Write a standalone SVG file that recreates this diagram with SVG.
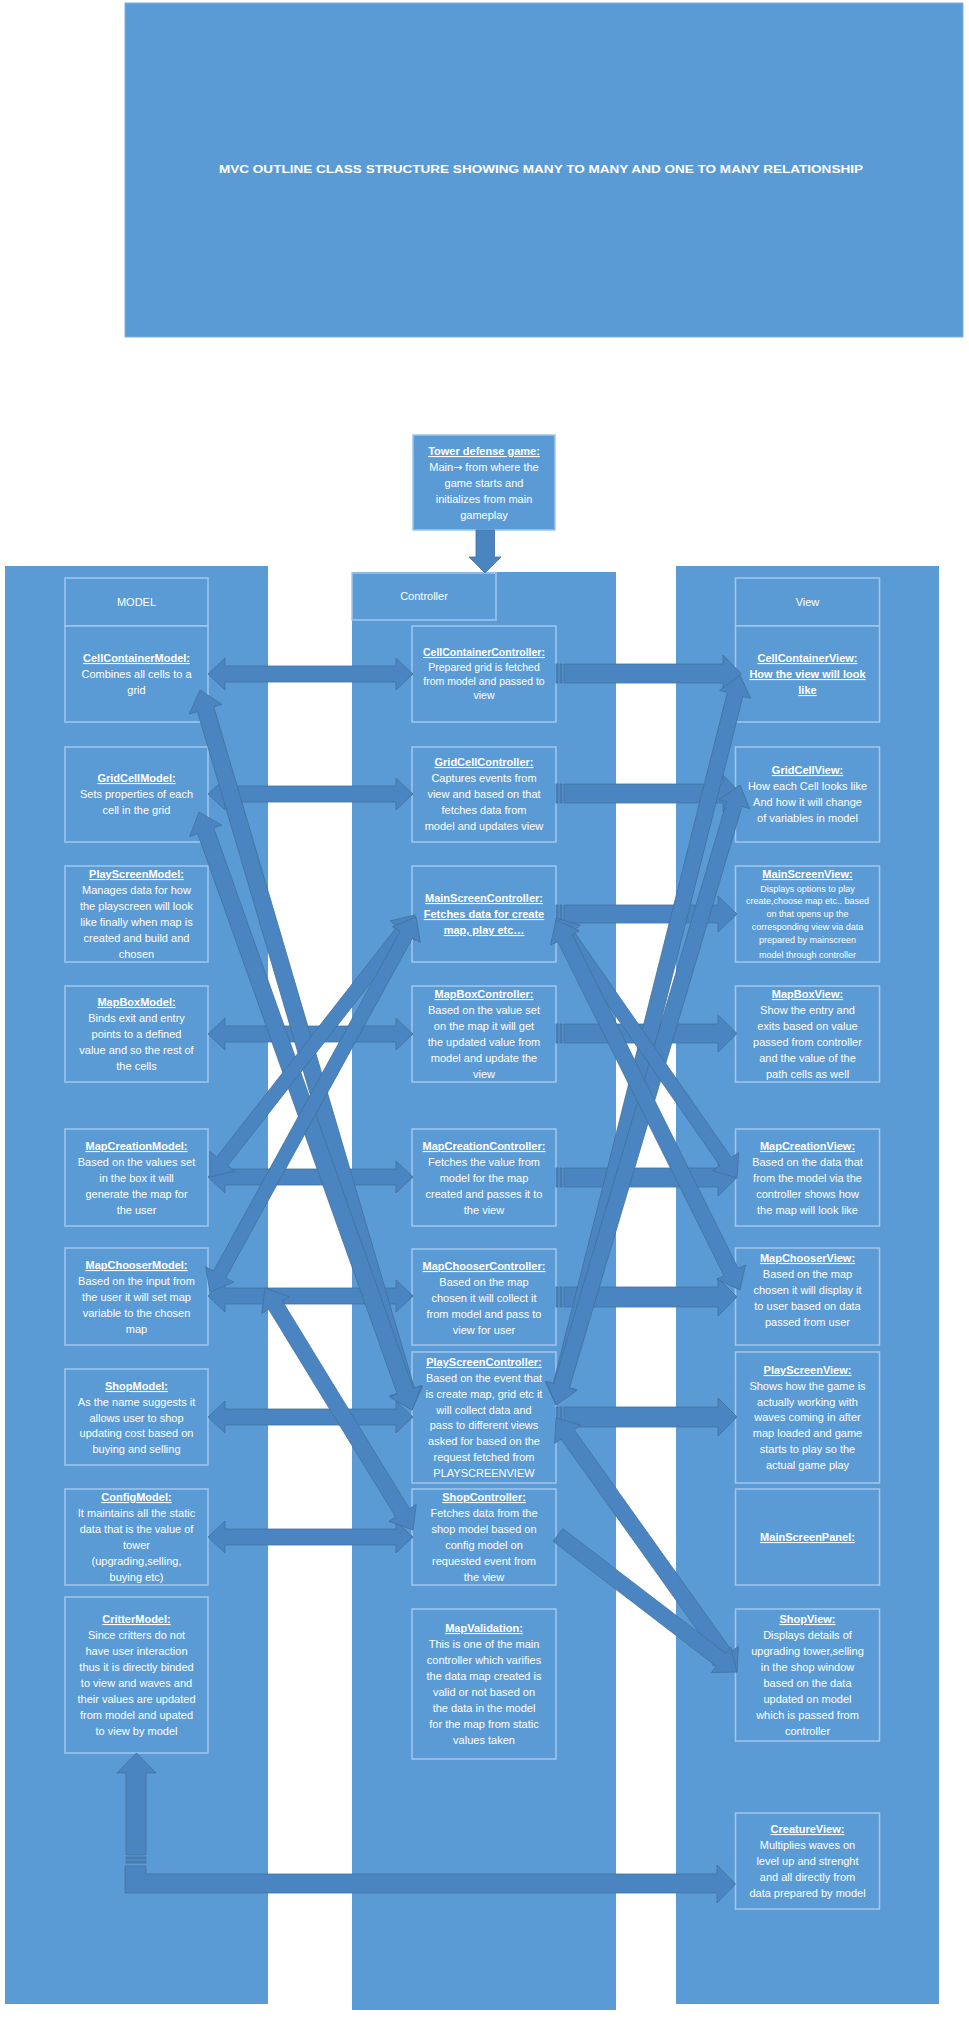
<svg xmlns="http://www.w3.org/2000/svg" width="969" height="2019" viewBox="0 0 969 2019">
<style>
.col{fill:#5b9bd5;}
.box{fill:#5b9bd5;stroke:#a3c6ea;stroke-width:1.5;}
.t{font-family:"Liberation Sans",Arial,sans-serif;font-size:11px;fill:#ffffff;text-anchor:middle;}
.s{font-size:10.5px;}
.xs{font-size:9px;}
.h{font-weight:bold;text-decoration:underline;}
.arr{fill:#4a85c2;stroke:#41719c;stroke-width:0.8;}
</style>
<rect width="969" height="2019" fill="#ffffff"/>
<g id="title">
<rect x="125" y="3" width="838" height="334" class="col" stroke="#7fb0e0" stroke-width="1"/>
<text x="541" y="173" class="t" font-weight="bold" font-size="13" textLength="644" lengthAdjust="spacingAndGlyphs">MVC OUTLINE CLASS STRUCTURE SHOWING MANY TO MANY AND ONE TO MANY RELATIONSHIP</text>
</g>
<g id="columns">
<rect x="5" y="566" width="263" height="1438" class="col"/>
<rect x="352" y="572" width="264" height="1438" class="col"/>
<rect x="676" y="566" width="263" height="1438" class="col"/>
</g>
<g id="tower">
<rect x="413" y="435" width="142" height="95" class="box"/>
<text class="t"><tspan x="484" y="455" class="h">Tower defense game:</tspan><tspan x="484" y="471">Main<tspan font-family="DejaVu Sans, sans-serif">→</tspan> from where the</tspan><tspan x="484" y="487">game starts and</tspan><tspan x="484" y="503">initializes from main</tspan><tspan x="484" y="519">gameplay</tspan></text>
</g>
<g id="model-header"><rect x="65" y="578" width="143" height="48" class="box"/><text x="136.5" y="606" class="t">MODEL</text></g>
<g id="controller-header"><rect x="352" y="573" width="144" height="47" class="box"/><text x="424" y="600" class="t">Controller</text></g>
<g id="view-header"><rect x="735.5" y="578" width="144" height="48" class="box"/><text x="807.5" y="606" class="t">View</text></g>

<g id="CellContainerModel"><rect x="65" y="626" width="143" height="96" class="box"/><text class="t"><tspan x="136.5" y="662" class="h">CellContainerModel:</tspan><tspan x="136.5" y="678">Combines all cells to a</tspan><tspan x="136.5" y="694">grid</tspan></text></g>
<g id="GridCellModel"><rect x="65" y="747" width="143" height="95" class="box"/><text class="t"><tspan x="136.5" y="782" class="h">GridCellModel:</tspan><tspan x="136.5" y="798">Sets properties of each</tspan><tspan x="136.5" y="814">cell in the grid</tspan></text></g>
<g id="PlayScreenModel"><rect x="65" y="866" width="143" height="96" class="box"/><text class="t"><tspan x="136.5" y="878" class="h">PlayScreenModel:</tspan><tspan x="136.5" y="894">Manages data for how</tspan><tspan x="136.5" y="910">the playscreen will look</tspan><tspan x="136.5" y="926">like finally when map is</tspan><tspan x="136.5" y="942">created and build and</tspan><tspan x="136.5" y="958">chosen</tspan></text></g>
<g id="MapBoxModel"><rect x="65" y="986" width="143" height="96" class="box"/><text class="t"><tspan x="136.5" y="1006" class="h">MapBoxModel:</tspan><tspan x="136.5" y="1022">Binds exit and entry</tspan><tspan x="136.5" y="1038">points to a defined</tspan><tspan x="136.5" y="1054">value and so the rest of</tspan><tspan x="136.5" y="1070">the cells</tspan></text></g>
<g id="MapCreationModel"><rect x="65" y="1129" width="143" height="97" class="box"/><text class="t"><tspan x="136.5" y="1150" class="h">MapCreationModel:</tspan><tspan x="136.5" y="1166">Based on the values set</tspan><tspan x="136.5" y="1182">in the box it will</tspan><tspan x="136.5" y="1198">generate the map for</tspan><tspan x="136.5" y="1214">the user</tspan></text></g>
<g id="MapChooserModel"><rect x="65" y="1248" width="143" height="97" class="box"/><text class="t"><tspan x="136.5" y="1269" class="h">MapChooserModel:</tspan><tspan x="136.5" y="1285">Based on the input from</tspan><tspan x="136.5" y="1301">the user it will set map</tspan><tspan x="136.5" y="1317">variable to the chosen</tspan><tspan x="136.5" y="1333">map</tspan></text></g>
<g id="ShopModel"><rect x="65" y="1369" width="143" height="96" class="box"/><text class="t"><tspan x="136.5" y="1390" class="h">ShopModel:</tspan><tspan x="136.5" y="1406">As the name suggests it</tspan><tspan x="136.5" y="1422">allows user to shop</tspan><tspan x="136.5" y="1437">updating cost based on</tspan><tspan x="136.5" y="1453">buying and selling</tspan></text></g>
<g id="ConfigModel"><rect x="65" y="1489" width="143" height="96" class="box"/><text class="t"><tspan x="136.5" y="1501" class="h">ConfigModel:</tspan><tspan x="136.5" y="1517">It maintains all the static</tspan><tspan x="136.5" y="1533">data that is the value of</tspan><tspan x="136.5" y="1549">tower</tspan><tspan x="136.5" y="1565">(upgrading,selling,</tspan><tspan x="136.5" y="1581">buying etc)</tspan></text></g>
<g id="CritterModel"><rect x="65" y="1597" width="143" height="156" class="box"/><text class="t"><tspan x="136.5" y="1623" class="h">CritterModel:</tspan><tspan x="136.5" y="1639">Since critters do not</tspan><tspan x="136.5" y="1655">have user interaction</tspan><tspan x="136.5" y="1671">thus it is directly binded</tspan><tspan x="136.5" y="1687">to view and waves and</tspan><tspan x="136.5" y="1703">their values are updated</tspan><tspan x="136.5" y="1719">from model and upated</tspan><tspan x="136.5" y="1735">to view by model</tspan></text></g>

<g id="CellContainerController"><rect x="412" y="626" width="144" height="96" class="box"/><text class="t s"><tspan x="484" y="656" class="h">CellContainerController:</tspan><tspan x="484" y="671">Prepared grid is fetched</tspan><tspan x="484" y="685">from model and passed to</tspan><tspan x="484" y="699">view</tspan></text></g>
<g id="GridCellController"><rect x="412" y="747" width="144" height="95" class="box"/><text class="t"><tspan x="484" y="766" class="h">GridCellController:</tspan><tspan x="484" y="782">Captures events from</tspan><tspan x="484" y="798">view and based on that</tspan><tspan x="484" y="814">fetches data from</tspan><tspan x="484" y="830">model and updates view</tspan></text></g>
<g id="MainScreenController"><rect x="412" y="866" width="144" height="96" class="box"/><text class="t"><tspan x="484" y="902" class="h">MainScreenController:</tspan><tspan x="484" y="918" class="h">Fetches data for create</tspan><tspan x="484" y="934" class="h">map, play etc…</tspan></text></g>
<g id="MapBoxController"><rect x="412" y="986" width="144" height="96" class="box"/><text class="t"><tspan x="484" y="998" class="h">MapBoxController:</tspan><tspan x="484" y="1014">Based on the value set</tspan><tspan x="484" y="1030">on the map it will get</tspan><tspan x="484" y="1046">the updated value from</tspan><tspan x="484" y="1062">model and update the</tspan><tspan x="484" y="1078">view</tspan></text></g>
<g id="MapCreationController"><rect x="412" y="1129" width="144" height="97" class="box"/><text class="t"><tspan x="484" y="1150" class="h">MapCreationController:</tspan><tspan x="484" y="1166">Fetches the value from</tspan><tspan x="484" y="1182">model for the map</tspan><tspan x="484" y="1198">created and passes it to</tspan><tspan x="484" y="1214">the view</tspan></text></g>
<g id="MapChooserController"><rect x="412" y="1249" width="144" height="96" class="box"/><text class="t"><tspan x="484" y="1270" class="h">MapChooserController:</tspan><tspan x="484" y="1286">Based on the map</tspan><tspan x="484" y="1302">chosen it will collect it</tspan><tspan x="484" y="1318">from model and pass to</tspan><tspan x="484" y="1334">view for user</tspan></text></g>
<g id="PlayScreenController"><rect x="412" y="1352" width="144" height="131" class="box"/><text class="t"><tspan x="484" y="1366" class="h">PlayScreenController:</tspan><tspan x="484" y="1382">Based on the event that</tspan><tspan x="484" y="1398">is create map, grid etc it</tspan><tspan x="484" y="1414">will collect data and</tspan><tspan x="484" y="1429">pass to different views</tspan><tspan x="484" y="1445">asked for based on the</tspan><tspan x="484" y="1461">request fetched from</tspan><tspan x="484" y="1477">PLAYSCREENVIEW</tspan></text></g>
<g id="ShopController"><rect x="412" y="1489" width="144" height="96" class="box"/><text class="t"><tspan x="484" y="1501" class="h">ShopController:</tspan><tspan x="484" y="1517">Fetches data from the</tspan><tspan x="484" y="1533">shop model based on</tspan><tspan x="484" y="1549">config model on</tspan><tspan x="484" y="1565">requested event from</tspan><tspan x="484" y="1581">the view</tspan></text></g>
<g id="MapValidation"><rect x="412" y="1609" width="144" height="150" class="box"/><text class="t"><tspan x="484" y="1632" class="h">MapValidation:</tspan><tspan x="484" y="1648">This is one of the main</tspan><tspan x="484" y="1664">controller which varifies</tspan><tspan x="484" y="1680">the data map created is</tspan><tspan x="484" y="1696">valid or not based on</tspan><tspan x="484" y="1712">the data in the model</tspan><tspan x="484" y="1728">for the map from static</tspan><tspan x="484" y="1744">values taken</tspan></text></g>

<g id="CellContainerView"><rect x="735.5" y="626" width="144" height="96" class="box"/><text class="t"><tspan x="807.5" y="662" class="h">CellContainerView:</tspan><tspan x="807.5" y="678" class="h">How the view will look</tspan><tspan x="807.5" y="694" class="h">like</tspan></text></g>
<g id="GridCellView"><rect x="735.5" y="747" width="144" height="95" class="box"/><text class="t"><tspan x="807.5" y="774" class="h">GridCellView:</tspan><tspan x="807.5" y="790">How each Cell looks like</tspan><tspan x="807.5" y="806">And how it will change</tspan><tspan x="807.5" y="822">of variables in model</tspan></text></g>
<g id="MainScreenView"><rect x="735.5" y="866" width="144" height="96" class="box"/><text class="t"><tspan x="807.5" y="878" class="h">MainScreenView:</tspan><tspan x="807.5" y="892" class="xs">Displays options to play</tspan><tspan x="807.5" y="904" class="xs">create,choose map etc.. based</tspan><tspan x="807.5" y="917" class="xs">on that opens up the</tspan><tspan x="807.5" y="930" class="xs">corresponding view via data</tspan><tspan x="807.5" y="943" class="xs">prepared by mainscreen</tspan><tspan x="807.5" y="958" class="xs">model through controller</tspan></text></g>
<g id="MapBoxView"><rect x="735.5" y="986" width="144" height="96" class="box"/><text class="t"><tspan x="807.5" y="998" class="h">MapBoxView:</tspan><tspan x="807.5" y="1014">Show the entry and</tspan><tspan x="807.5" y="1030">exits based on value</tspan><tspan x="807.5" y="1046">passed from controller</tspan><tspan x="807.5" y="1062">and the value of the</tspan><tspan x="807.5" y="1078">path cells as well</tspan></text></g>
<g id="MapCreationView"><rect x="735.5" y="1129" width="144" height="97" class="box"/><text class="t"><tspan x="807.5" y="1150" class="h">MapCreationView:</tspan><tspan x="807.5" y="1166">Based on the data that</tspan><tspan x="807.5" y="1182">from the model via the</tspan><tspan x="807.5" y="1198">controller shows how</tspan><tspan x="807.5" y="1214">the map will look like</tspan></text></g>
<g id="MapChooserView"><rect x="735.5" y="1248" width="144" height="97" class="box"/><text class="t"><tspan x="807.5" y="1262" class="h">MapChooserView:</tspan><tspan x="807.5" y="1278">Based on the map</tspan><tspan x="807.5" y="1294">chosen it will display it</tspan><tspan x="807.5" y="1310">to user based on data</tspan><tspan x="807.5" y="1326">passed from user</tspan></text></g>
<g id="PlayScreenView"><rect x="735.5" y="1352" width="144" height="131" class="box"/><text class="t"><tspan x="807.5" y="1374" class="h">PlayScreenView:</tspan><tspan x="807.5" y="1390">Shows how the game is</tspan><tspan x="807.5" y="1406">actually working with</tspan><tspan x="807.5" y="1421">waves coming in after</tspan><tspan x="807.5" y="1437">map loaded and game</tspan><tspan x="807.5" y="1453">starts to play so the</tspan><tspan x="807.5" y="1469">actual game play</tspan></text></g>
<g id="MainScreenPanel"><rect x="735.5" y="1489" width="144" height="96" class="box"/><text x="807.5" y="1541" class="t h">MainScreenPanel:</text></g>
<g id="ShopView"><rect x="735.5" y="1609" width="144" height="132" class="box"/><text class="t"><tspan x="807.5" y="1623" class="h">ShopView:</tspan><tspan x="807.5" y="1639">Displays details of</tspan><tspan x="807.5" y="1655">upgrading tower,selling</tspan><tspan x="807.5" y="1671">in the shop window</tspan><tspan x="807.5" y="1687">based on the data</tspan><tspan x="807.5" y="1703">updated on model</tspan><tspan x="807.5" y="1719">which is passed from</tspan><tspan x="807.5" y="1735">controller</tspan></text></g>
<g id="CreatureView"><rect x="735.5" y="1813" width="144" height="96" class="box"/><text class="t"><tspan x="807.5" y="1833" class="h">CreatureView:</tspan><tspan x="807.5" y="1849">Multiplies waves on</tspan><tspan x="807.5" y="1865">level up and strenght</tspan><tspan x="807.5" y="1881">and all directly from</tspan><tspan x="807.5" y="1897">data prepared by model</tspan></text></g>

<g id="connectors">
<polygon class="arr" points="476,530 494.5,530 494.5,557 501,557 485,573 469,557 476,557"/>
<polygon class="arr" points="208,674 225,658 225,666 396,666 396,658 413,674 396,690 396,682 225,682 225,690"/>
<polygon class="arr" points="208,794 225,778 225,786 396,786 396,778 413,794 396,810 396,802 225,802 225,810"/>
<polygon class="arr" points="208,1034 225,1018 225,1026 396,1026 396,1018 413,1034 396,1050 396,1042 225,1042 225,1050"/>
<polygon class="arr" points="208,1177 225,1161 225,1169 396,1169 396,1161 413,1177 396,1193 396,1185 225,1185 225,1193"/>
<polygon class="arr" points="208,1296 225,1280 225,1288 396,1288 396,1280 413,1296 396,1312 396,1304 225,1304 225,1312"/>
<polygon class="arr" points="208,1417 225,1401 225,1409 396,1409 396,1401 413,1417 396,1433 396,1425 225,1425 225,1433"/>
<polygon class="arr" points="208,1537 225,1521 225,1529 396,1529 396,1521 413,1537 396,1553 396,1545 225,1545 225,1553"/>
<g>
<rect class="arr" x="556" y="664" width="2" height="19"/><rect class="arr" x="560" y="664" width="2" height="19"/>
<polygon class="arr" points="564,664 723,664 723,655 741,673.5 723,692 723,683 564,683"/>
<rect class="arr" x="556" y="784" width="2" height="19"/><rect class="arr" x="560" y="784" width="2" height="19"/>
<polygon class="arr" points="564,784 723,784 723,775 741,793.5 723,812 723,803 564,803"/>
<rect class="arr" x="556" y="905" width="2" height="18"/><rect class="arr" x="560" y="905" width="2" height="18"/>
<polygon class="arr" points="564,905 718,905 718,896 737,914 718,932 718,923 564,923"/>
<rect class="arr" x="556" y="1024" width="2" height="19"/><rect class="arr" x="560" y="1024" width="2" height="19"/>
<polygon class="arr" points="564,1024 718,1024 718,1015 737,1033.5 718,1052 718,1043 564,1043"/>
<rect class="arr" x="556" y="1168" width="2" height="19"/><rect class="arr" x="560" y="1168" width="2" height="19"/>
<polygon class="arr" points="564,1168 718,1168 718,1159 737,1177.5 718,1196 718,1187 564,1187"/>
<rect class="arr" x="556" y="1287" width="2" height="20"/><rect class="arr" x="560" y="1287" width="2" height="20"/>
<polygon class="arr" points="564,1287 718,1287 718,1278 737,1297 718,1316 718,1307 564,1307"/>
<rect class="arr" x="556" y="1407" width="2" height="20"/><rect class="arr" x="560" y="1407" width="2" height="20"/>
<polygon class="arr" points="564,1407 718,1407 718,1398 737,1417 718,1436 718,1427 564,1427"/>
</g>
<polygon class="arr" points="200,690 189.34,713.99 197.50,711.59 398.20,1393.22 390.04,1395.62 412,1410 422.66,1386.01 414.51,1388.41 213.80,706.79 221.96,704.38"/>
<polygon class="arr" points="199,812 189.70,836.55 197.70,833.69 397.28,1394.01 389.27,1396.86 412,1410 421.30,1385.46 413.30,1388.31 213.72,827.99 221.73,825.14"/>
<polygon class="arr" points="210,1177 234.93,1171.11 227.84,1165.56 408.19,935.07 415.28,940.61 415,915 390.07,920.89 397.16,926.44 216.81,1156.94 209.72,1151.39"/>
<polygon class="arr" points="210,1292 233.65,1282.18 225.76,1277.84 412.51,937.90 420.39,942.23 416,917 392.35,926.83 400.24,931.16 213.49,1271.10 205.61,1266.77"/>
<polygon class="arr" points="265,1288 261.79,1313.41 268.61,1309.24 395.74,1517.11 388.92,1521.29 413,1530 416.22,1504.59 409.39,1508.76 282.26,1300.89 289.09,1296.71"/>
<polygon class="arr" points="556,1405 576.40,1389.52 568.65,1387.56 742.87,696.35 750.63,698.30 740,675 719.60,690.48 727.35,692.44 553.13,1383.65 545.37,1381.70"/>
<polygon class="arr" points="556,1405 577.03,1390.38 569.36,1388.10 741.98,806.45 749.65,808.73 740,785 718.97,799.62 726.64,801.90 554.02,1383.55 546.35,1381.28"/>
<polygon class="arr" points="556,918 554.30,943.56 561.68,938.41 719.83,1165.59 712.44,1170.73 737,1178 738.70,1152.45 731.32,1157.59 573.17,930.41 580.56,925.27"/>
<polygon class="arr" points="556,920 550.58,945.03 557.74,941.47 723.93,1275.65 716.77,1279.22 740,1290 745.42,1264.97 738.26,1268.53 572.07,934.35 579.23,930.78"/>
<polygon class="arr" points="556,1418 554.58,1443.57 561.09,1438.93 718.88,1660.36 712.36,1665.00 737,1672 738.42,1646.43 731.91,1651.07 574.12,1429.65 580.64,1425.00"/>
<polygon class="arr" points="553.14,1541.35 716.26,1666.20 711.39,1672.55 737,1672 730.84,1647.14 725.98,1653.49 562.86,1528.65"/>
<polygon class="arr" points="125,1866 146,1866 146,1874 717,1874 717,1865 735.5,1884 717,1903 717,1893 125,1893"/>
<rect class="arr" x="126" y="1857" width="20" height="2"/><rect class="arr" x="126" y="1861" width="20" height="2"/>
<polygon class="arr" points="126,1855 126,1773 117,1773 136.5,1753 156,1773 146,1773 146,1855"/>
</g>
</svg>
